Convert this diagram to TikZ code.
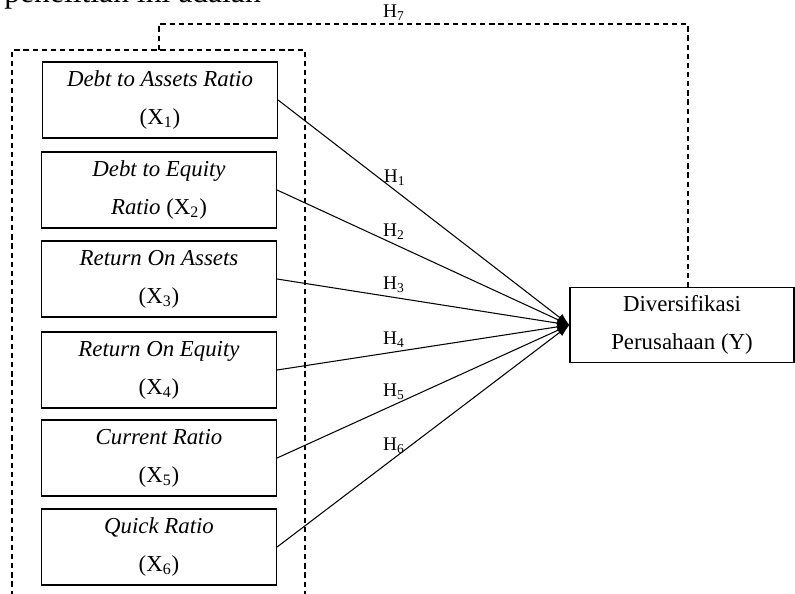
\documentclass[tikz,border=0pt]{standalone}
\usepackage{fontspec}
\setmainfont{Liberation Serif}
\usetikzlibrary{arrows.meta}

\begin{document}
\begin{tikzpicture}[x=0.02cm,y=-0.02cm,
  var/.style={draw,line width=0.7pt,minimum width=4.7cm,minimum height=1.52cm,inner sep=0pt,align=center,font=\fontsize{13}{21.5}\selectfont},
  grp/.style={dash pattern=on 3pt off 2.2pt,line width=0.6pt},
  hyp/.style={-{Latex[length=7pt,width=5pt]},line width=0.6pt},
  lbl/.style={pos=0.4,above,inner sep=2.5pt,font=\fontsize{11}{12}\selectfont}]
\useasboundingbox (0,0) rectangle (795,593);
\clip (0,0) rectangle (795,593);
\node[anchor=base west,inner sep=0pt,font=\fontsize{18}{20}\selectfont] (intro) at (4,2) {penelitian ini adalah};

\draw (160,100) node[var] (x1) {\textit{Debt to Assets Ratio}\\(X\textsubscript{1})};
\draw (159,190) node[var] (x2) {\textit{Debt to Equity}\\\textit{Ratio} (X\textsubscript{2})};
\draw (159,279) node[var] (x3) {\textit{Return On Assets}\\(X\textsubscript{3})};
\draw (159,370) node[var] (x4) {\textit{Return On Equity}\\(X\textsubscript{4})};
\draw (159,458) node[var] (x5) {\textit{Current Ratio}\\(X\textsubscript{5})};
\draw (159,547) node[var] (x6) {\textit{Quick Ratio}\\(X\textsubscript{6})};
\draw (682,325) node[var,minimum width=4.48cm,minimum height=1.5cm] (y) {Diversifikasi\\Perusahaan (Y)};

% kelompok variabel X
\coordinate (g) at (159,50);
\draw[grp] (12,605) -- (12,50) -- (305,50) -- (305,605);
\draw[grp] (g) -- ++(0,-26) -| ([xshift=0.12cm]y.north);
\node[font=\fontsize{11}{12}\selectfont] (h7) at (394,13) {H\textsubscript{7}};

\path[hyp] (x1.east) edge node[lbl] {H\textsubscript{1}} (y.west);
\path[hyp] (x2.east) edge node[lbl] {H\textsubscript{2}} (y.west);
\path[hyp] (x3.east) edge node[lbl] {H\textsubscript{3}} (y.west);
\path[hyp] (x4.east) edge node[lbl] {H\textsubscript{4}} (y.west);
\path[hyp] (x5.east) edge node[lbl] {H\textsubscript{5}} (y.west);
\path[hyp] (x6.east) edge node[lbl] {H\textsubscript{6}} (y.west);
\end{tikzpicture}
\end{document}
